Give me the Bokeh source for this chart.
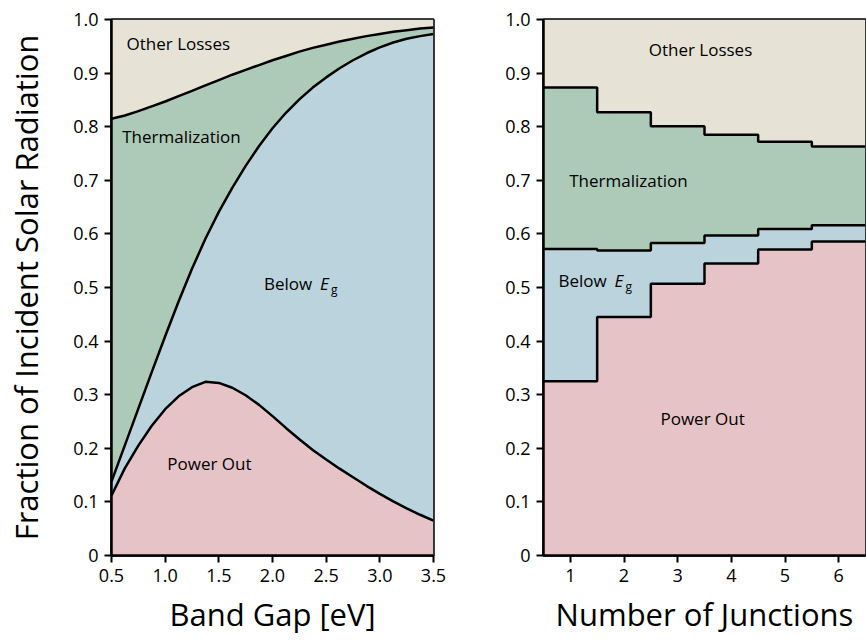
from bokeh.plotting import figure
from bokeh.layouts import row
from bokeh.models import Range1d, FixedTicker, Label, NumeralTickFormatter
from bokeh.embed import file_html
from bokeh.resources import INLINE

# Single-junction breakdown versus band gap (eV)
band_gap = [0.5, 0.625, 0.75, 0.875, 1.0, 1.125, 1.25, 1.375, 1.5, 1.625, 1.75, 1.875,
            2.0, 2.125, 2.25, 2.375, 2.5, 2.625, 2.75, 2.875, 3.0, 3.125, 3.25, 3.375, 3.5]
power_out = [0.112, 0.163, 0.205, 0.242, 0.273, 0.297, 0.314, 0.324, 0.322, 0.313, 0.299, 0.281,
             0.260, 0.238, 0.217, 0.197, 0.179, 0.162, 0.146, 0.130, 0.115, 0.101, 0.088, 0.076, 0.065]
below_gap_top = [0.138, 0.206, 0.274, 0.342, 0.409, 0.474, 0.535, 0.591, 0.641, 0.686, 0.727, 0.764,
                 0.797, 0.826, 0.851, 0.873, 0.892, 0.909, 0.924, 0.937, 0.948, 0.957, 0.964, 0.969, 0.973]
thermal_top = [0.815, 0.821, 0.829, 0.838, 0.847, 0.857, 0.867, 0.877, 0.887, 0.897, 0.906, 0.915,
               0.924, 0.932, 0.940, 0.947, 0.953, 0.959, 0.964, 0.969, 0.973, 0.977, 0.980, 0.983, 0.985]

# Multi-junction breakdown versus number of junctions
junctions = [1, 2, 3, 4, 5, 6]
mj_power_out = [0.325, 0.445, 0.507, 0.545, 0.571, 0.586]
mj_below_gap_top = [0.572, 0.569, 0.583, 0.597, 0.609, 0.616]
mj_thermal_top = [0.873, 0.827, 0.801, 0.785, 0.772, 0.763]

y_ticks = [0, 0.1, 0.2, 0.3, 0.4, 0.5, 0.6, 0.7, 0.8, 0.9, 1.0]
gap_ticks = [0.5, 1.0, 1.5, 2.0, 2.5, 3.0, 3.5]

FONT = "Open Sans"
C_OTHER = "#E6E3D6"
C_THERM = "#ADC9B8"
C_BELOW = "#BAD3DC"
C_POWER = "#E6C3C7"
LW = 2.5


def style(p):
    p.outline_line_color = "black"
    p.outline_line_width = LW
    p.outline_line_alpha = 1.0
    p.grid.visible = False
    p.background_fill_color = "white"
    p.border_fill_color = "white"
    for ax in p.axis:
        ax.axis_line_width = LW
        ax.axis_line_color = "black"
        ax.major_tick_line_width = 2
        ax.major_tick_line_color = "black"
        ax.major_tick_out = 7
        ax.major_tick_in = 0
        ax.minor_tick_line_color = None
        ax.major_label_text_font = FONT
        ax.major_label_text_font_size = "18px"
        ax.major_label_text_color = "black"
        ax.major_label_standoff = 6
        ax.axis_label_text_font = FONT
        ax.axis_label_text_font_style = "normal"
        ax.axis_label_text_color = "black"
    p.xaxis.axis_label_text_font_size = "31px"
    p.xaxis.axis_label_standoff = 8
    p.yaxis.axis_label_text_font_size = "31px"
    p.yaxis.axis_label_standoff = 23
    p.yaxis.ticker = FixedTicker(ticks=y_ticks)
    p.yaxis.formatter = NumeralTickFormatter(format="0.0")
    p.yaxis.major_label_overrides = {0: "0"}


def add_text(p, x, y, text, size="17px", style_="normal", x_offset=0, y_offset=0):
    p.add_layout(Label(x=x, y=y, text=text, text_font=FONT, text_font_size=size,
                       text_font_style=style_, text_baseline="middle", text_align="left",
                       x_offset=x_offset, y_offset=y_offset, text_color="black"))


def below_eg(p, x, y):
    add_text(p, x, y, "Below")
    add_text(p, x, y, "E", style_="italic", x_offset=56)
    add_text(p, x, y, "g", size="12px", x_offset=67, y_offset=-6)


# ---- left panel: band gap ----
p1 = figure(width=480, height=642, x_range=Range1d(0.5, 3.5), y_range=Range1d(0, 1),
            toolbar_location=None, output_backend="svg",
            min_border_left=111, min_border_right=47, min_border_top=19, min_border_bottom=87)
style(p1)
p1.xaxis.ticker = FixedTicker(ticks=gap_ticks)
p1.xaxis.formatter = NumeralTickFormatter(format="0.0")
p1.xaxis.axis_label = "Band Gap [eV]"
p1.yaxis.axis_label = "Fraction of Incident Solar Radiation"

ones = [1.0] * len(band_gap)
zeros = [0.0] * len(band_gap)
p1.varea(x=band_gap, y1=zeros, y2=power_out, fill_color=C_POWER)
p1.varea(x=band_gap, y1=power_out, y2=below_gap_top, fill_color=C_BELOW)
p1.varea(x=band_gap, y1=below_gap_top, y2=thermal_top, fill_color=C_THERM)
p1.varea(x=band_gap, y1=thermal_top, y2=ones, fill_color=C_OTHER)
for ys in (power_out, below_gap_top, thermal_top):
    p1.line(band_gap, ys, line_color="black", line_width=LW, line_join="round")

add_text(p1, 0.64, 0.956, "Other Losses")
add_text(p1, 0.60, 0.782, "Thermalization")
below_eg(p1, 1.92, 0.507)
add_text(p1, 1.02, 0.172, "Power Out")

# ---- right panel: number of junctions ----
p2 = figure(width=386, height=642, x_range=Range1d(0.5, 6.5), y_range=Range1d(0, 1),
            toolbar_location=None, output_backend="svg",
            min_border_left=63, min_border_right=1, min_border_top=19, min_border_bottom=87)
style(p2)
p2.xaxis.ticker = FixedTicker(ticks=junctions)
p2.xaxis.axis_label = "Number of Junctions"

edges = [n - 0.5 for n in junctions] + [junctions[-1] + 0.5]


def ext(vals):
    return list(vals) + [vals[-1]]


mj_p = ext(mj_power_out)
mj_b = ext(mj_below_gap_top)
mj_t = ext(mj_thermal_top)
zeros2 = [0.0] * len(edges)
ones2 = [1.0] * len(edges)
p2.varea_step(x=edges, y1=zeros2, y2=mj_p, step_mode="after", fill_color=C_POWER)
p2.varea_step(x=edges, y1=mj_p, y2=mj_b, step_mode="after", fill_color=C_BELOW)
p2.varea_step(x=edges, y1=mj_b, y2=mj_t, step_mode="after", fill_color=C_THERM)
p2.varea_step(x=edges, y1=mj_t, y2=ones2, step_mode="after", fill_color=C_OTHER)
for ys in (mj_p, mj_b, mj_t):
    p2.step(edges, ys, mode="after", line_color="black", line_width=LW)

add_text(p2, 2.46, 0.944, "Other Losses")
add_text(p2, 0.98, 0.70, "Thermalization")
below_eg(p2, 0.78, 0.513)
add_text(p2, 2.68, 0.256, "Power Out")

layout = row(p1, p2)
open("out.html", "w").write(file_html(layout, INLINE))
